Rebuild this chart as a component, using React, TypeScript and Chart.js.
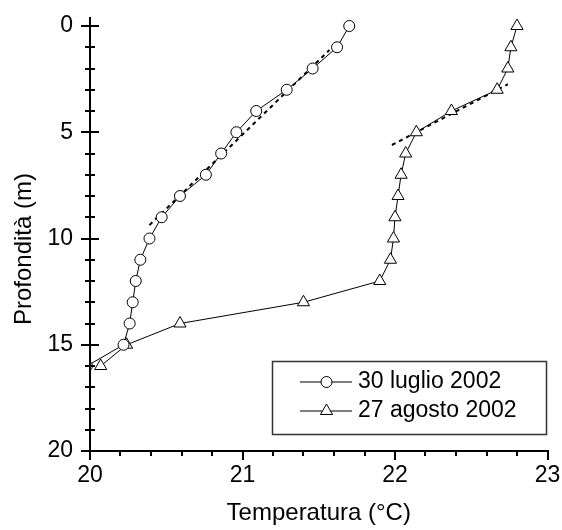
import React, { useEffect, useRef } from "react";
import { Chart, registerables } from "chart.js";
Chart.register(...registerables);

// ---- data ----
const seriesLabels = ["30 luglio 2002", "27 agosto 2002"];
const depthLuglio = [0, 1, 2, 3, 4, 5, 6, 7, 8, 9, 10, 11, 12, 13, 14, 15, 16];
const tempLuglio = [21.7, 21.62, 21.46, 21.29, 21.09, 20.96, 20.86, 20.76, 20.59, 20.47, 20.39, 20.33, 20.3, 20.28, 20.26, 20.22, 19.98];
const depthAgosto = [0, 1, 2, 3, 4, 5, 6, 7, 8, 9, 10, 11, 12, 13, 14, 15, 16];
const tempAgosto = [22.8, 22.76, 22.74, 22.67, 22.37, 22.14, 22.07, 22.04, 22.02, 22.0, 21.99, 21.97, 21.9, 21.4, 20.59, 20.24, 20.07];
const fitLuglioTemp = [20.39, 21.57];
const fitLuglioDepth = [9.37, 1.13];
const fitAgostoTemp = [21.98, 22.74];
const fitAgostoDepth = [5.6, 2.74];

const xMajorTicks = [20, 21, 22, 23];
const xMinorTicks = [20.2, 20.4, 20.6, 20.8, 21.2, 21.4, 21.6, 21.8, 22.2, 22.4, 22.6, 22.8];
const yMajorTicks = [0, 5, 10, 15, 20];
const yMinorTicks = [1, 2, 3, 4, 6, 7, 8, 9, 11, 12, 13, 14, 16, 17, 18, 19];
const xTitle = "Temperatura (°C)";
const yTitle = "Profondità (m)";

const FONT = "'Liberation Sans', Arial, sans-serif";

function toPoints(xs: number[], ys: number[]) {
  return xs.map((x, i) => ({ x, y: ys[i] }));
}

function zeroPadding(s: any) {
  s.paddingTop = 0;
  s.paddingBottom = 0;
  s.paddingLeft = 0;
  s.paddingRight = 0;
}

const axesPlugin = {
  id: "originAxes",
  afterDraw(chart: any) {
    const ctx = chart.ctx;
    const xs = chart.scales.x;
    const ys = chart.scales.y;
    const area = chart.chartArea;
    ctx.save();
    ctx.strokeStyle = "#000";
    ctx.lineWidth = 2;
    ctx.lineCap = "butt";
    // axis lines
    ctx.beginPath();
    ctx.moveTo(area.left, area.top - 9);
    ctx.lineTo(area.left, area.bottom + 1);
    ctx.moveTo(area.left - 1, area.bottom);
    ctx.lineTo(area.right + 1, area.bottom);
    ctx.stroke();
    // y ticks
    ctx.beginPath();
    yMajorTicks.forEach((v) => {
      const p = Math.round(ys.getPixelForValue(v));
      ctx.moveTo(area.left - 9, p);
      ctx.lineTo(area.left + 9, p);
    });
    yMinorTicks.forEach((v) => {
      const p = Math.round(ys.getPixelForValue(v));
      ctx.moveTo(area.left - 5, p);
      ctx.lineTo(area.left + 5, p);
    });
    // x ticks
    xMajorTicks.forEach((v) => {
      const p = Math.round(xs.getPixelForValue(v));
      ctx.moveTo(p, area.bottom - 1);
      ctx.lineTo(p, area.bottom + 9);
    });
    xMinorTicks.forEach((v) => {
      const p = Math.round(xs.getPixelForValue(v));
      ctx.moveTo(p, area.bottom - 1);
      ctx.lineTo(p, area.bottom + 5);
    });
    ctx.stroke();

    // y title
    ctx.save();
    ctx.translate(24, 249);
    ctx.rotate(-Math.PI / 2);
    ctx.fillStyle = "#000";
    ctx.font = `24px ${FONT}`;
    ctx.textAlign = "center";
    ctx.textBaseline = "middle";
    ctx.fillText(yTitle, 0, 0);
    ctx.restore();

    // legend
    const bx = 272.5, by = 361.5, bw = 274, bh = 73;
    ctx.fillStyle = "#fff";
    ctx.fillRect(bx, by, bw, bh);
    ctx.lineWidth = 1.5;
    ctx.strokeStyle = "#333";
    ctx.strokeRect(bx, by, bw, bh);
    const rows = [382, 411];
    chart.data.datasets.slice(0, 2).forEach((ds: any, i: number) => {
      const cy = rows[i];
      ctx.strokeStyle = "#000";
      ctx.lineWidth = 1;
      ctx.beginPath();
      ctx.moveTo(300, cy);
      ctx.lineTo(352, cy);
      ctx.stroke();
      ctx.fillStyle = "#fff";
      ctx.beginPath();
      if (ds.pointStyle === "circle") {
        ctx.arc(326.5, cy, ds.pointRadius, 0, Math.PI * 2);
      } else {
        const r = ds.pointRadius;
        ctx.moveTo(326.5, cy - r);
        ctx.lineTo(326.5 + r * Math.sin(Math.PI / 3), cy + r * 0.5);
        ctx.lineTo(326.5 - r * Math.sin(Math.PI / 3), cy + r * 0.5);
        ctx.closePath();
      }
      ctx.fill();
      ctx.stroke();
      ctx.fillStyle = "#000";
      ctx.font = `23px ${FONT}`;
      ctx.textBaseline = "middle";
      ctx.textAlign = "left";
      ctx.fillText(ds.label, 358, cy);
    });
    ctx.restore();
  },
};

export default function App() {
  const ref = useRef<HTMLCanvasElement | null>(null);
  useEffect(() => {
    if (!ref.current) return;
    const seriesClip = { left: 0, top: 12, right: 12, bottom: 0 };
    const chart = new Chart(ref.current, {
      type: "scatter",
      data: {
        datasets: [
          {
            label: seriesLabels[0],
            data: toPoints(tempLuglio, depthLuglio),
            showLine: true,
            clip: seriesClip,
            borderColor: "#000",
            borderWidth: 1,
            backgroundColor: "#fff",
            pointStyle: "circle",
            pointRadius: 5.5,
            pointBorderWidth: 1,
            pointBorderColor: "#000",
            pointBackgroundColor: "#fff",
          },
          {
            label: seriesLabels[1],
            data: toPoints(tempAgosto, depthAgosto),
            showLine: true,
            clip: seriesClip,
            borderColor: "#000",
            borderWidth: 1,
            backgroundColor: "#fff",
            pointStyle: "triangle",
            pointRadius: 7,
            pointBorderWidth: 1,
            pointBorderColor: "#000",
            pointBackgroundColor: "#fff",
          },
          {
            label: "fit1",
            data: toPoints(fitLuglioTemp, fitLuglioDepth),
            showLine: true,
            borderColor: "#000",
            borderWidth: 2,
            borderDash: [4, 4],
            pointRadius: 0,
          },
          {
            label: "fit2",
            data: toPoints(fitAgostoTemp, fitAgostoDepth),
            showLine: true,
            borderColor: "#000",
            borderWidth: 2,
            borderDash: [4, 4],
            pointRadius: 0,
          },
        ] as any,
      },
      options: {
        animation: false,
        responsive: false,
        devicePixelRatio: 1,
        layout: { padding: { top: 26, right: 14.5, left: 0, bottom: 0 } },
        plugins: { legend: { display: false }, tooltip: { enabled: false } },
        scales: {
          x: {
            type: "linear",
            min: 20,
            max: 23,
            afterFit: (s: any) => {
              s.height = 79;
              zeroPadding(s);
            },
            afterBuildTicks: (s: any) => {
              s.ticks = xMajorTicks.map((v) => ({ value: v }));
            },
            ticks: {
              color: "#000",
              font: { family: FONT, size: 23 },
              padding: 11,
              maxRotation: 0,
            },
            grid: { display: true, drawOnChartArea: false, drawTicks: false },
            border: { display: false },
            title: {
              display: true,
              text: xTitle,
              color: "#000",
              font: { family: FONT, size: 24 },
              padding: { top: 0, bottom: 2 },
            },
          },
          y: {
            type: "linear",
            reverse: true,
            min: 0,
            max: 20,
            afterFit: (s: any) => {
              s.width = 90;
              zeroPadding(s);
            },
            afterBuildTicks: (s: any) => {
              s.ticks = yMajorTicks.map((v) => ({ value: v }));
            },
            ticks: {
              color: "#000",
              font: { family: FONT, size: 23 },
              padding: 17,
            },
            grid: { display: true, drawOnChartArea: false, drawTicks: false },
            border: { display: false },
            title: { display: false },
          },
        },
      } as any,
      plugins: [axesPlugin],
    });
    return () => chart.destroy();
  }, []);
  return (
    <div style={{ position: "fixed", left: 0, top: 0, width: 562, height: 530, background: "#fff" }}>
      <canvas ref={ref} width={562} height={530} style={{ width: 562, height: 530 }} />
    </div>
  );
}
